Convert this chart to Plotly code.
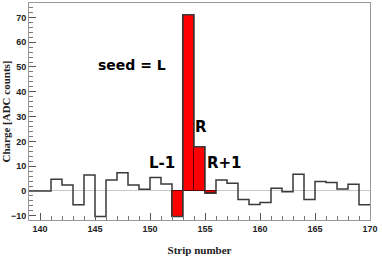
import plotly.graph_objects as go

strips = list(range(139, 170))  # bin low edges, width 1
charge = [0, 0, 4.7, 2.4, -5.6, 6.4, -10.3, 4.4, 7.4, 2.4, 0.7, 5.4, 2.8,
          -10.3, 71.1, 17.8, -0.9,
          4.4, 3.1, -3.4, -5.4, -4.6, 1.1, -0.3, 6.7, -3.4, 3.8, 3.4, 0.8, 2.7, -5.6]
cluster_strips = [152, 153, 154, 155]
labels = ["seed = L", "R", "L-1", "R+1"]
label_x = [148.4, 154.6, 151.1, 156.8]
label_y = [50.8, 25.8, 11.4, 11.4]
label_size = [14, 15, 15, 15]

fig = go.Figure()

# red filled cluster bins
cl_vals = [charge[strips.index(s)] for s in cluster_strips]
fig.add_trace(go.Bar(
    x=[s + 0.5 for s in cluster_strips], y=cl_vals, width=1,
    marker=dict(color="#ff0000", line=dict(color="#5a0000", width=1)),
    showlegend=False, hoverinfo="skip"))

# step histogram outline
xs = strips + [170]
ys = charge + [charge[-1]]
fig.add_trace(go.Scatter(
    x=xs, y=ys, mode="lines", line=dict(shape="hv", color="#3a3a3a", width=1.5),
    showlegend=False, hoverinfo="skip"))

for t, x, y, s in zip(labels, label_x, label_y, label_size):
    fig.add_annotation(x=x, y=y, text=t, showarrow=False,
                       font=dict(family="DejaVu Sans", size=s, color="black", weight="bold"))

fig.update_layout(
    width=382, height=261,
    margin=dict(l=29, r=12, t=3, b=41),
    plot_bgcolor="white", paper_bgcolor="white",
    bargap=0,
)
fig.update_xaxes(
    range=[139, 170], tickvals=[140, 145, 150, 155, 160, 165, 170],
    automargin=False,
    ticks="inside", ticklen=7, tickcolor="#555",
    minor=dict(dtick=1, tick0=0, ticks="inside", ticklen=4, tickcolor="#777"),
    showgrid=False, zeroline=False,
    showline=True, linecolor="#999", linewidth=1, mirror=True,
    tickfont=dict(family="Liberation Sans", size=9, color="#222", weight="bold"),
    title=dict(text="Strip number", standoff=13,
               font=dict(family="Liberation Serif", size=11, color="#222", weight="bold")),
)
fig.update_yaxes(
    range=[-11.7, 75.8], tickvals=[-10, 0, 10, 20, 30, 40, 50, 60, 70],
    automargin=False,
    ticks="inside", ticklen=7, tickcolor="#555",
    minor=dict(dtick=2, tick0=0, ticks="inside", ticklen=4, tickcolor="#777"),
    showgrid=False, zeroline=True, zerolinecolor="#c8c8c8", zerolinewidth=1,
    showline=True, linecolor="#999", linewidth=1, mirror=True,
    tickfont=dict(family="Liberation Sans", size=9, color="#222", weight="bold"),
    title=dict(text="Charge [ADC counts]", standoff=2,
               font=dict(family="Liberation Serif", size=11, color="#222", weight="bold")),
)

fig.write_html("out.html", config={"displayModeBar": False},
               post_script="document.body.style.margin='0';document.body.style.padding='0';")
